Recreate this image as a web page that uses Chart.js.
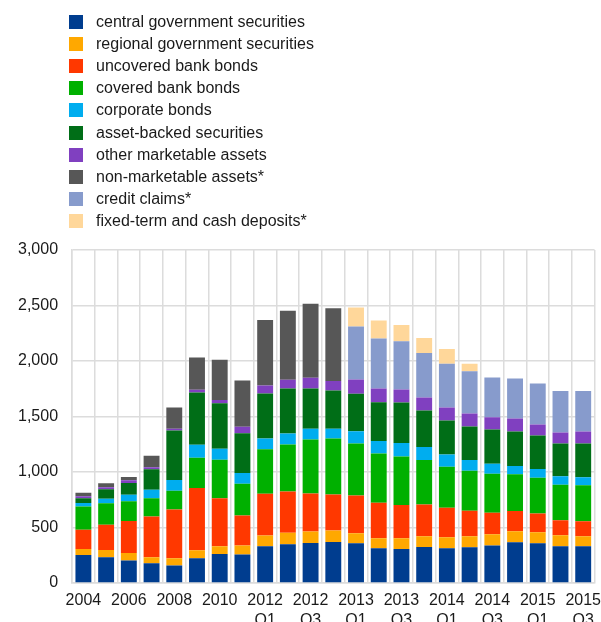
<!DOCTYPE html>
<html>
<head>
<meta charset="utf-8">
<script src="https://cdn.jsdelivr.net/npm/chart.js@4.4.1/dist/chart.umd.min.js"></script>
<style>
  html, body { margin: 0; padding: 0; overflow: hidden; background: #fff; }
  #wrap { position: relative; width: 601px; height: 622px; overflow: hidden; }
  #legend { position: absolute; left: 69px; top: 11px; font: 16px "Liberation Sans", Arial, sans-serif; color: #1a1a1a; }
  .item { height: 22.1px; display: flex; align-items: center; white-space: nowrap; }
  .swatch { width: 14px; height: 14px; margin-right: 13px; flex: none; }
</style>
</head>
<body>
<div id="wrap">
  <canvas id="chartCanvas" width="609" height="639"></canvas>
  <div id="legend"></div>
</div>
<script>
const labels = [
  "2004", "2005", "2006", "2007", "2008", "2009", "2010", "2011",
  ["2012", "Q1"], ["2012", "Q2"], ["2012", "Q3"], ["2012", "Q4"],
  ["2013", "Q1"], ["2013", "Q2"], ["2013", "Q3"], ["2013", "Q4"],
  ["2014", "Q1"], ["2014", "Q2"], ["2014", "Q3"], ["2014", "Q4"],
  ["2015", "Q1"], ["2015", "Q2"], ["2015", "Q3"],
];

// EUR billions
const centralGov = [253, 232, 202, 178, 157, 223, 262, 256, 331, 349, 361, 370, 358, 313, 307, 325, 313, 322, 337, 367, 358, 331, 331];
const regionalGov = [54, 66, 69, 54, 66, 72, 70, 82, 97, 103, 103, 103, 91, 91, 97, 97, 100, 100, 103, 100, 100, 100, 91];
const uncoveredBank = [172, 227, 287, 368, 440, 561, 431, 271, 376, 373, 343, 325, 340, 319, 298, 286, 265, 229, 193, 181, 169, 135, 135];
const coveredBank = [211, 193, 178, 163, 169, 272, 347, 286, 401, 422, 485, 503, 467, 443, 437, 400, 370, 361, 352, 331, 322, 320, 323];
const corporate = [30, 42, 60, 78, 97, 117, 99, 97, 96, 99, 97, 88, 111, 114, 123, 118, 109, 96, 90, 75, 78, 75, 72];
const assetBacked = [43, 84, 105, 184, 446, 471, 410, 356, 407, 407, 364, 346, 338, 349, 364, 328, 307, 302, 308, 310, 301, 295, 304];
const otherMarketable = [18, 18, 25, 18, 15, 24, 30, 60, 72, 78, 96, 84, 129, 124, 118, 118, 117, 117, 111, 118, 100, 99, 108];
const nonMarketable = [33, 36, 30, 103, 190, 292, 362, 416, 590, 621, 666, 657, null, null, null, null, null, null, null, null, null, null, null];
const creditClaims = [null, null, null, null, null, null, null, null, null, null, null, null, 476, 449, 434, 400, 395, 380, 358, 361, 370, 374, 365];
const deposits = [null, null, null, null, null, null, null, null, null, null, null, null, 172, 162, 147, 136, 132, 69, null, null, null, null, null];

const yTicks = [0, 500, 1000, 1500, 2000, 2500, 3000];

const series = [
  { label: "central government securities", data: centralGov, color: "#003d8f" },
  { label: "regional government securities", data: regionalGov, color: "#ffa800" },
  { label: "uncovered bank bonds", data: uncoveredBank, color: "#ff3800" },
  { label: "covered bank bonds", data: coveredBank, color: "#00b000" },
  { label: "corporate bonds", data: corporate, color: "#00adef" },
  { label: "asset-backed securities", data: assetBacked, color: "#006e17" },
  { label: "other marketable assets", data: otherMarketable, color: "#8040c0" },
  { label: "non-marketable assets*", data: nonMarketable, color: "#575757" },
  { label: "credit claims*", data: creditClaims, color: "#879bcc" },
  { label: "fixed-term and cash deposits*", data: deposits, color: "#ffd79a" },
];

const FONT = "'Liberation Sans', Arial, sans-serif";
const GRID = "#dcdcdc";

const chartContext = document.getElementById("chartCanvas");

let chart = new Chart(chartContext, {
  type: "bar",
  data: {
    labels: labels,
    datasets: series.map((s) => ({
      label: s.label,
      data: s.data,
      backgroundColor: s.color,
      borderWidth: 0,
      barPercentage: 0.7,
      categoryPercentage: 1,
    })),
  },
  options: {
    responsive: false,
    animation: false,
    layout: {
      padding: { top: 250, left: 4, right: 0, bottom: 0 },
    },
    plugins: {
      legend: { display: false },
      tooltip: { enabled: false },
    },
    scales: {
      x: {
        stacked: true,
        grid: { color: GRID, lineWidth: 1.5, drawTicks: false, offset: true },
        border: { color: GRID, width: 1.5 },
        ticks: {
          autoSkip: false,
          maxRotation: 0,
          padding: 8,
          color: "#1a1a1a",
          font: { family: FONT, size: 16, lineHeight: 1.25 },
          callback: (value, index) => (index % 2 === 0 ? labels[index] : ""),
        },
      },
      y: {
        stacked: true,
        min: 0,
        max: 3000,
        afterBuildTicks: (axis) => {
          axis.ticks = yTicks.map((v) => ({ value: v }));
        },
        grid: { color: GRID, lineWidth: 1.5, drawTicks: false },
        border: { color: GRID, width: 1.5 },
        ticks: {
          padding: 14,
          color: "#1a1a1a",
          font: { family: FONT, size: 16 },
          callback: (value) => value.toLocaleString("en-US"),
        },
      },
    },
  },
});

const legendBox = document.getElementById("legend");
series.forEach((s) => {
  const row = document.createElement("div");
  row.className = "item";
  const sw = document.createElement("span");
  sw.className = "swatch";
  sw.style.background = s.color;
  const txt = document.createElement("span");
  txt.textContent = s.label;
  row.appendChild(sw);
  row.appendChild(txt);
  legendBox.appendChild(row);
});
</script>
</body>
</html>
